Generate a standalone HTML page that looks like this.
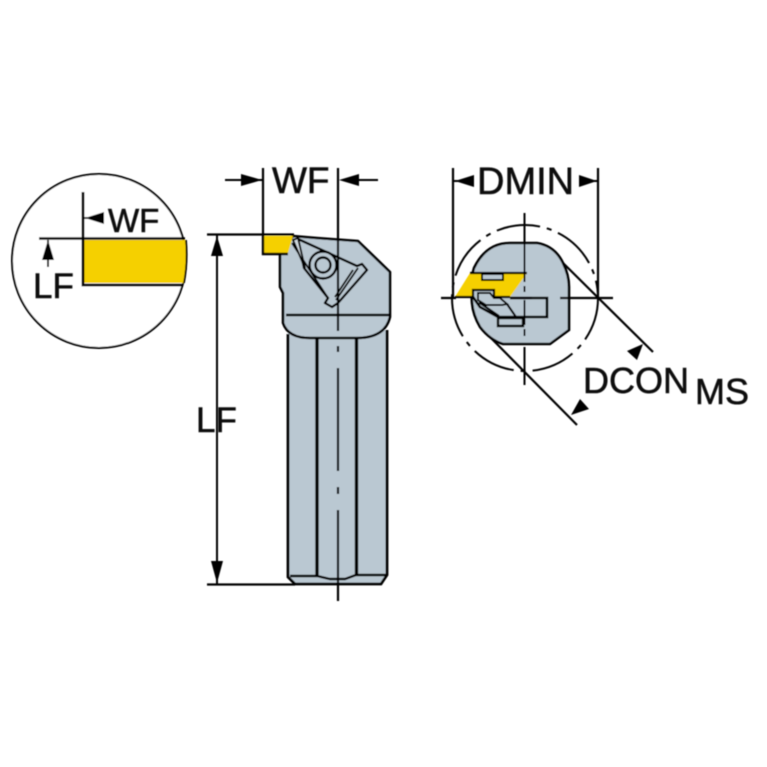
<!DOCTYPE html>
<html><head><meta charset="utf-8"><style>
html,body{margin:0;padding:0;background:#fff;width:767px;height:767px;overflow:hidden}
svg{display:block;position:absolute;left:0;top:0}
text{font-family:"Liberation Sans",sans-serif;fill:#111;stroke:#111;stroke-width:.55}
</style></head><body>
<svg width="767" height="767" viewBox="0 0 767 767" xmlns="http://www.w3.org/2000/svg">
<defs><filter id="b" x="-5%" y="-5%" width="110%" height="110%"><feGaussianBlur stdDeviation="0.5"/></filter></defs>
<rect width="767" height="767" fill="#fff"/>
<g filter="url(#b)">
<!-- Detail circle -->
<circle cx="99" cy="261" r="87" fill="#fff" stroke="#000" stroke-width="2"/>
<path d="M84 240H186Q188 262 184 283H84Z" fill="#f5d000"/>
<path d="M83 192V285H182" fill="none" stroke="#000" stroke-width="2.800"/>
<path d="M39 238.500H185" fill="none" stroke="#000" stroke-width="2.600"/>
<path d="M83 218H103" stroke="#000" stroke-width="1.800"/>
<path d="M85 218L104 212V224Z" fill="#000"/>
<path d="M48 240V267" stroke="#000" stroke-width="1.900"/>
<path d="M48 240L42 260H54Z" fill="#000"/>
<path d="M186 240Q188 262 184 283" fill="none" stroke="#000" stroke-width="1.800"/>

<!-- Main body -->
<path d="M288 330V577L295 584H381L387 575V330Z" fill="#bac8d2"/>
<path d="M288 334V577L295 584H381L387 575V330" fill="none" stroke="#000" stroke-width="2.800"/>
<path d="M280 253V287L283 293V323Q288 338 310 338H357Q385 338 390 317V272L358 241L317 238L293 236L280 253Z" fill="#bac8d2" stroke="#000" stroke-width="2.600" stroke-linejoin="round"/>
<path d="M286 315H390" stroke="#000" stroke-width="2.400"/>
<path d="M317 338V575M356.500 338V575" stroke="#000" stroke-width="3.400"/>
<path d="M290 576H317L330 579H345L356 575H386" fill="none" stroke="#000" stroke-width="2.400"/>
<!-- Shim/pocket -->
<path d="M298 239L357 266L362 264L367 270L338 303L332 307L325 303L328 298L304 268Z" fill="#bac8d2" stroke="#000" stroke-width="2.400" stroke-linejoin="round"/>
<path d="M292 243L328 298M353 270L335 297M358 268L336 300" fill="none" stroke="#000" stroke-width="1.900"/>
<path d="M293 240L298 238L305 268Z" fill="#cfd8df" stroke="#000" stroke-width="1.900"/>
<circle cx="323" cy="265" r="13.500" fill="#bac8d2" stroke="#000" stroke-width="2.400"/>
<circle cx="323" cy="265" r="7.500" fill="#bac8d2" stroke="#000" stroke-width="2.400"/>
<!-- Insert -->
<path d="M263 236H293L288 253L263 254Z" fill="#f5d000"/>
<path d="M263 236V254H288" fill="none" stroke="#000" stroke-width="2.400"/>
<!-- Center line -->
<path d="M338 168V331M338 346V352M338 368V471M338 487V494M338 510V601" stroke="#000" stroke-width="2.200" fill="none"/>
<!-- Dimensions main -->
<path d="M263 168V236M207 234.500H294M207 584.500H295" stroke="#000" stroke-width="2.200" fill="none"/>
<path d="M225 180H262M358 180H378M217 235V584" stroke="#000" stroke-width="2" fill="none"/>
<path d="M262 180L241 174V186Z" fill="#000"/>
<path d="M339 180L359 174V186Z" fill="#000"/>
<path d="M217 236L211 256H223Z" fill="#000"/>
<path d="M217 583L211 561H223Z" fill="#000"/>

<!-- Right view -->
<circle cx="525" cy="298" r="73" fill="none" stroke="#000" stroke-width="2" stroke-dasharray="44 7 5 7"/>
<path d="M472 303Q470 280 474 268Q486 243 510 243H537Q555 246 563 263Q569 275 569 287V330L550 344H503Q490 340 480 327Q473 315 472 303Z" fill="#bac8d2" stroke="#000" stroke-width="2.600"/>
<path d="M473 297L480 307L498 317H547V298H510" fill="#bac8d2" stroke="#000" stroke-width="2.600"/>
<path d="M498 318H523V326H498Z" fill="#bac8d2" stroke="#000" stroke-width="2.400"/>
<path d="M480 292V303L499 316M507 304L516 317" fill="none" stroke="#000" stroke-width="2.200"/>
<path d="M470 273H527L510 297H493V290H473V297H455Z" fill="#f5d000"/>
<path d="M482 274H503V280H482Z" fill="#bac8d2" stroke="#000" stroke-width="2"/>
<path d="M470 273H527M455 297H473V290H494V297H510" fill="none" stroke="#000" stroke-width="2.200"/>
<path d="M478 293V300L486 305H502L507 304L500 298H494L490 293H478Z" fill="#bac8d2" stroke="#000" stroke-width="1.900"/>
<!-- Cross center lines -->
<path d="M441 298H456M510 298H532M560 298H613" stroke="#000" stroke-width="2.200" fill="none"/>
<path d="M524.500 213V282M524.500 286V292M524.500 300V325M524.500 329V336M524.500 347V385" stroke="#000" stroke-width="2" fill="none"/>
<!-- Dim lines right -->
<path d="M453 168V298M598 168V298" stroke="#000" stroke-width="2.200" fill="none"/>
<path d="M453 181H474M579 181H598" stroke="#000" stroke-width="2" fill="none"/>
<path d="M455 181L474 175V187Z" fill="#000"/>
<path d="M597 181L579 175V187Z" fill="#000"/>
<path d="M563 263L653 352M490 337L577 425" stroke="#000" stroke-width="2.200" fill="none"/>
<path d="M643 344L627 351L637 360Z" fill="#000"/>
<path d="M571 415L580 399L589 409Z" fill="#000"/>
</g>
<g filter="url(#b)">
<text x="272" y="193" font-size="37">WF</text>
<text x="477" y="194" font-size="38">DMIN</text>
<text x="196" y="432" font-size="35">LF</text>
<text x="583" y="393" font-size="36">DCON</text>
<text x="695" y="404" font-size="36">MS</text>
<text x="108" y="232" font-size="33">WF</text>
<text x="33" y="298" font-size="35">LF</text>
</g>
</svg>
</body></html>
